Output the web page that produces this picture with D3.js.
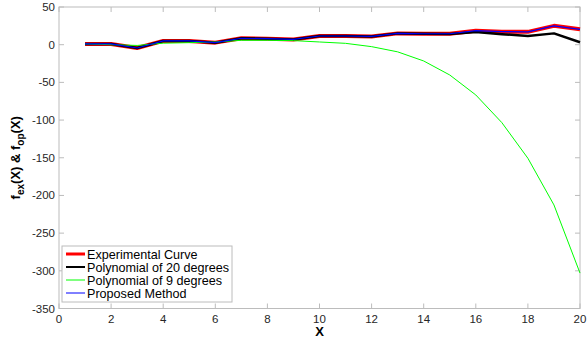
<!DOCTYPE html>
<html lang="en">
<head>
  <meta charset="UTF-8">
  <title>Curve fitting comparison</title>
  <script src="https://d3js.org/d3.v7.min.js"></script>
  <style>
    body { margin: 0; background: #fff; }
    svg { font-family: "Liberation Sans", Arial, sans-serif; }
  </style>
</head>
<body>
  <div id="chart"></div>
  <script>
    // data
    const xs = [1, 2, 3, 4, 5, 6, 7, 8, 9, 10, 11, 12, 13, 14, 15, 16, 17, 18, 19, 20];
    const experimental = [1, 1, -4.4, 5, 5, 2.7, 8.5, 8, 7, 11.5, 11.5, 11, 15, 14.5, 14.5, 18.6, 17.3, 17, 25, 20.4];
    const poly20 = [1, 1, -4.4, 5, 5, 2.7, 8.5, 8, 7, 11.5, 11.5, 11, 15, 14.5, 14.3, 16.8, 14, 11.5, 15, 3.2];
    const poly9 = [1, 0, -1, 2, 2.7, 3.5, 5.8, 5.8, 5.4, 3.6, 1.8, -2.6, -9.5, -21.6, -40.2, -66.7, -103.4, -150.7, -212.6, -303];
    const proposed = [1, 1, -4.4, 5, 5, 2.7, 8.5, 8, 7, 11.5, 11.5, 11, 15, 14.5, 14.5, 18.6, 17.3, 17, 25, 20.4];

    const xTicks = d3.range(0, 21, 2);
    const yTicks = d3.range(-350, 51, 50);

    const series = [
      { name: "Experimental Curve", values: experimental, color: "#ff0000", width: 4 },
      { name: "Polynomial of 20 degrees", values: poly20, color: "#000000", width: 2.5 },
      { name: "Polynomial of 9 degrees", values: poly9, color: "#00ff00", width: 1 },
      { name: "Proposed Method", values: proposed, color: "#0000ff", width: 1.2 }
    ];

    const width = 587, height = 340;
    const mLeft = 59, mRight = 580, mTop = 7, mBottom = 308.5;

    const svg = d3.select("#chart").append("svg")
      .attr("width", width).attr("height", height);

    const x = d3.scaleLinear().domain([0, 20]).range([mLeft, mRight]);
    const y = d3.scaleLinear().domain([-350, 50]).range([mBottom, mTop]);

    const axisColor = "#bcbcbc";
    const tickLen = 5;

    // box
    svg.append("rect")
      .attr("x", mLeft).attr("y", mTop)
      .attr("width", mRight - mLeft).attr("height", mBottom - mTop)
      .attr("fill", "none").attr("stroke", axisColor).attr("stroke-width", 1);

    // x ticks (bottom + top, inward)
    xTicks.forEach(t => {
      svg.append("line").attr("x1", x(t)).attr("x2", x(t))
        .attr("y1", mBottom).attr("y2", mBottom - tickLen).attr("stroke", axisColor);
      svg.append("line").attr("x1", x(t)).attr("x2", x(t))
        .attr("y1", mTop).attr("y2", mTop + tickLen).attr("stroke", axisColor);
      svg.append("text").attr("x", x(t)).attr("y", mBottom + 14)
        .attr("text-anchor", "middle").attr("font-size", 11.5).attr("fill", "#262626")
        .text(t);
    });

    // y ticks (left + right, inward)
    yTicks.forEach(t => {
      svg.append("line").attr("x1", mLeft).attr("x2", mLeft + tickLen)
        .attr("y1", y(t)).attr("y2", y(t)).attr("stroke", axisColor);
      svg.append("line").attr("x1", mRight).attr("x2", mRight - tickLen)
        .attr("y1", y(t)).attr("y2", y(t)).attr("stroke", axisColor);
      svg.append("text").attr("x", mLeft - 4).attr("y", y(t) + 4)
        .attr("text-anchor", "end").attr("font-size", 11.5).attr("fill", "#262626")
        .text(t);
    });

    // axis labels
    svg.append("text").attr("x", x(10)).attr("y", 336)
      .attr("text-anchor", "middle").attr("font-size", 13).attr("font-weight", "bold")
      .text("X");

    const yl = svg.append("text")
      .attr("transform", `translate(20,${(mTop + mBottom) / 2}) rotate(-90)`)
      .attr("text-anchor", "middle").attr("font-size", 13).attr("font-weight", "bold");
    yl.append("tspan").text("f");
    yl.append("tspan").attr("font-size", 10).attr("dy", 4).text("ex");
    yl.append("tspan").attr("dy", -4).text("(X) & f");
    yl.append("tspan").attr("font-size", 10).attr("dy", 4).text("op");
    yl.append("tspan").attr("dy", -4).text("(X)");

    // lines
    const line = d3.line().x((d, i) => x(xs[i])).y(d => y(d));
    const plot = svg.append("g");
    series.forEach(s => {
      plot.append("path").datum(s.values)
        .attr("d", line)
        .attr("fill", "none")
        .attr("stroke", s.color)
        .attr("stroke-width", s.width)
        .attr("stroke-linejoin", "round");
    });

    // legend
    const lg = svg.append("g").attr("transform", "translate(62,246)");
    lg.append("rect").attr("width", 170).attr("height", 56)
      .attr("fill", "#fff").attr("stroke", axisColor);
    series.forEach((s, i) => {
      const yy = 8 + i * 13;
      lg.append("line").attr("x1", 4).attr("x2", 23).attr("y1", yy).attr("y2", yy)
        .attr("stroke", s.color).attr("stroke-width", i === 0 ? 3 : i === 1 ? 2 : 1);
      lg.append("text").attr("x", 25).attr("y", yy + 4.5)
        .attr("font-size", 12.6).attr("fill", "#000").text(s.name);
    });
  </script>
</body>
</html>
